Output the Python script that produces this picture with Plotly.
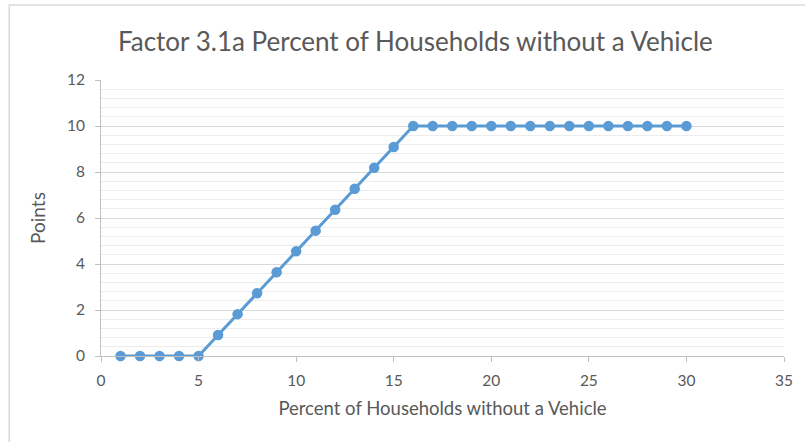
import plotly.graph_objects as go

# Percent of households without a vehicle and the points awarded
pct_no_vehicle = list(range(1, 31))
points = [0, 0, 0, 0, 0,
          0.91, 1.82, 2.73, 3.64, 4.55, 5.45, 6.36, 7.27, 8.18, 9.09,
          10, 10, 10, 10, 10, 10, 10, 10, 10, 10, 10, 10, 10, 10, 10]

x_ticks = [0, 5, 10, 15, 20, 25, 30, 35]
y_ticks = [0, 2, 4, 6, 8, 10, 12]

BLUE = "#5B9BD5"
TEXT = "#595959"
FONT = "Lato"

fig = go.Figure()
fig.add_trace(go.Scatter(
    x=pct_no_vehicle,
    y=points,
    mode="lines+markers",
    line=dict(color=BLUE, width=3),
    marker=dict(color=BLUE, size=10.5),
    cliponaxis=False,
    hoverinfo="skip",
    showlegend=False,
))

fig.update_layout(
    width=805,
    height=442,
    margin=dict(l=101, r=19, t=80, b=86),
    paper_bgcolor="white",
    plot_bgcolor="white",
    font=dict(family=FONT, color=TEXT, size=15),
    title=dict(
        text="Factor 3.1a Percent of Households without a Vehicle",
        x=0.516, xanchor="center",
        y=1 - 42 / 442, yanchor="middle",
        font=dict(family=FONT, size=26, color=TEXT),
    ),
    xaxis=dict(
        range=[0, 35],
        tickvals=x_ticks,
        ticktext=[str(v) for v in x_ticks],
        showgrid=False,
        zeroline=False,
        showline=True,
        linecolor="#bfbfbf",
        linewidth=1,
        ticks="outside",
        ticklen=5,
        tickcolor="#bfbfbf",
        ticklabelstandoff=5,
        tickfont=dict(size=15.5, color=TEXT),
        title=dict(text="Percent of Households without a Vehicle",
                   font=dict(size=18.5, color=TEXT), standoff=14),
        fixedrange=True,
    ),
    yaxis=dict(
        range=[0, 12],
        tickvals=y_ticks,
        ticktext=[str(v) for v in y_ticks],
        showgrid=True,
        gridcolor="#d9d9d9",
        gridwidth=1,
        zeroline=False,
        showline=True,
        linecolor="#bfbfbf",
        linewidth=1,
        ticks="outside",
        ticklen=5,
        tickcolor="#bfbfbf",
        ticklabelstandoff=7,
        tickfont=dict(size=15.5, color=TEXT),
        minor=dict(dtick=0.4, showgrid=True, gridcolor="#ececec", gridwidth=1),
        title=dict(text="Points", font=dict(size=19, color=TEXT), standoff=16),
        fixedrange=True,
    ),
)

# Chart frame: light border along top and left edges of the chart area
fig.add_shape(type="rect", xref="paper", yref="paper",
              x0=-92 / 685, x1=1.2, y0=-0.6, y1=351 / 276,
              line=dict(color="#d9d9d9", width=1.5), fillcolor="rgba(0,0,0,0)",
              layer="below")

fig.write_html("out.html")
